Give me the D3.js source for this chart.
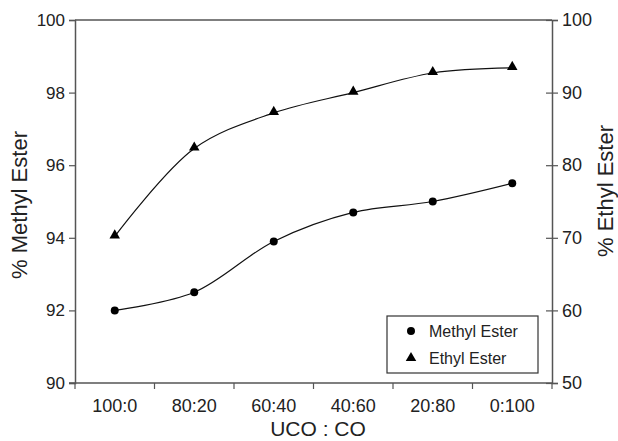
<!DOCTYPE html>
<html>
<head>
<meta charset="utf-8">
<script src="https://cdn.jsdelivr.net/npm/d3@7"></script>
<style>
  body { margin: 0; background: #fff; }
  svg text { font-family: "Liberation Sans", Arial, sans-serif; fill: #222; }
</style>
</head>
<body>
<script>
// Chart data
const categories = ["100:0", "80:20", "60:40", "40:60", "20:80", "0:100"];
const methylEster = [92.0, 92.5, 93.9, 94.7, 95.0, 95.5];
const ethylEster = [70.2, 82.3, 87.2, 90.0, 92.7, 93.4];
const leftTicks = [90, 92, 94, 96, 98, 100];
const rightTicks = [50, 60, 70, 80, 90, 100];

const width = 618;
const height = 441;

// Plot box edges
const plotLeft = 75;
const plotRight = 552;
const plotTop = 20;
const plotBottom = 383;

const svg = d3.select("body").append("svg")
    .attr("width", width)
    .attr("height", height);

const xScale = d3.scaleBand().domain(categories).range([plotLeft, plotRight]);
const yLeft = d3.scaleLinear().domain([90, 100]).range([plotBottom, plotTop]);
const yRight = d3.scaleLinear().domain([50, 100]).range([plotBottom, plotTop]);

const axisColor = "#555";

// Top border of plot box
svg.append("line")
    .attr("x1", plotLeft).attr("x2", plotRight)
    .attr("y1", plotTop).attr("y2", plotTop)
    .attr("stroke", axisColor).attr("stroke-width", 1.5);

// Bottom axis, ticks at band boundaries
const xg = svg.append("g").attr("transform", `translate(0,${plotBottom})`);
xg.append("line").attr("x1", plotLeft - 6).attr("x2", plotRight)
    .attr("stroke", axisColor).attr("stroke-width", 1.5);
const bounds = categories.map(c => xScale(c)).concat([plotRight]);
xg.selectAll(".xt").data(bounds).enter().append("line")
    .attr("x1", d => d).attr("x2", d => d)
    .attr("y1", 0).attr("y2", 6)
    .attr("stroke", axisColor).attr("stroke-width", 1.2);
xg.selectAll(".xl").data(categories).enter().append("text")
    .attr("x", d => xScale(d) + xScale.bandwidth() / 2)
    .attr("y", 29)
    .attr("text-anchor", "middle")
    .attr("font-size", 18)
    .text(d => d);

// Left axis
const yl = svg.append("g").attr("transform", `translate(${plotLeft},0)`)
    .call(d3.axisLeft(yLeft).tickValues(leftTicks).tickSize(6).tickPadding(4));
yl.select(".domain").attr("stroke", axisColor).attr("stroke-width", 1.5);
yl.selectAll(".tick line").attr("stroke", axisColor).attr("stroke-width", 1.2);
yl.selectAll(".tick text").attr("font-size", 17).attr("fill", "#222")
    .attr("font-family", "Liberation Sans, Arial, sans-serif");

// Right axis, ticks crossing the line
const yr = svg.append("g").attr("transform", `translate(${plotRight},0)`)
    .call(d3.axisRight(yRight).tickValues(rightTicks).tickSize(6).tickPadding(4));
yr.select(".domain").attr("stroke", axisColor).attr("stroke-width", 1.5);
yr.selectAll(".tick line").attr("x1", -6).attr("stroke", axisColor).attr("stroke-width", 1.2);
yr.selectAll(".tick text").attr("font-size", 18).attr("fill", "#222")
    .attr("font-family", "Liberation Sans, Arial, sans-serif");

// Axis titles
svg.append("text")
    .attr("transform", "translate(21,205) rotate(-90)")
    .attr("text-anchor", "middle").attr("dominant-baseline", "middle")
    .attr("font-size", 22)
    .text("% Methyl Ester");
svg.append("text")
    .attr("transform", "translate(607,191) rotate(-90)")
    .attr("text-anchor", "middle").attr("dominant-baseline", "middle")
    .attr("font-size", 22)
    .text("% Ethyl Ester");
svg.append("text")
    .attr("x", 318).attr("y", 436)
    .attr("text-anchor", "middle")
    .attr("font-size", 21)
    .text("UCO : CO");

const cx = c => xScale(c) + xScale.bandwidth() / 2;

// Smoothed lines
const lineLeft = d3.line()
    .x((d, i) => cx(categories[i]))
    .y(d => yLeft(d))
    .curve(d3.curveCatmullRom.alpha(0.5));
const lineRight = d3.line()
    .x((d, i) => cx(categories[i]))
    .y(d => yRight(d))
    .curve(d3.curveCatmullRom.alpha(0.5));

svg.append("path").attr("d", lineLeft(methylEster))
    .attr("fill", "none").attr("stroke", "#111").attr("stroke-width", 1.2);
svg.append("path").attr("d", lineRight(ethylEster))
    .attr("fill", "none").attr("stroke", "#111").attr("stroke-width", 1.2);

// Markers
const circleSym = d3.symbol().type(d3.symbolCircle).size(50);
const triSym = d3.symbol().type(d3.symbolTriangle).size(48);

svg.selectAll(".m").data(methylEster).enter().append("path")
    .attr("d", circleSym)
    .attr("transform", (d, i) => `translate(${cx(categories[i])},${yLeft(d)})`)
    .attr("fill", "#000");
svg.selectAll(".e").data(ethylEster).enter().append("path")
    .attr("d", triSym)
    .attr("transform", (d, i) => `translate(${cx(categories[i])},${yRight(d) - 1})`)
    .attr("fill", "#000");

// Legend
const legend = svg.append("g");
legend.append("rect")
    .attr("x", 387).attr("y", 316).attr("width", 151).attr("height", 57)
    .attr("fill", "#fff").attr("stroke", "#333").attr("stroke-width", 1.2);
const legendItems = [
    { label: "Methyl Ester", sym: circleSym },
    { label: "Ethyl Ester", sym: triSym }
];
legendItems.forEach((item, i) => {
    const y = 331 + i * 27;
    legend.append("path").attr("d", item.sym)
        .attr("transform", `translate(411,${y})`).attr("fill", "#000");
    legend.append("text").attr("x", 429).attr("y", y + 6)
        .attr("font-size", 16).text(item.label);
});
</script>
</body>
</html>
